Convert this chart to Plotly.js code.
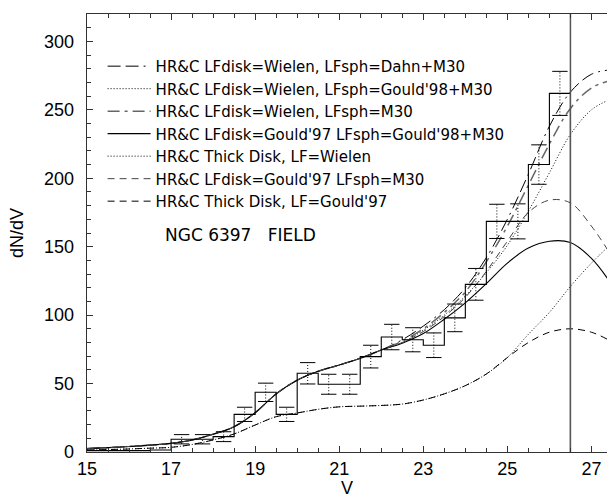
<!DOCTYPE html>
<html><head><meta charset="utf-8">
<script src="https://cdn.plot.ly/plotly-3.0.1.min.js"></script>
<style>html,body{margin:0;padding:0;background:#fff;overflow:hidden}</style>
</head><body><div id="chart" style="width:607px;height:498px"></div>
<script>
// ---- data ----
const magGrid = [15,15.5,16,16.5,17,17.5,18,18.5,19,19.5,20,20.5,21,21.5,22,22.5,23,23.5,24,24.5,25,25.5,26,26.5,27,27.4];

const wielenDahnM30    = [2.5,3.2,4.0,5.0,6.3,8.8,13.0,18.5,28.7,42.5,52.5,59,63.5,68.5,74.5, 82,92,104,120,142,170,203,238,263,276,279];
const wielenGould98M30 = [2.5,3.2,4.0,5.0,6.3,8.8,13.0,18.5,28.7,42.5,52.5,59,63.5,68.5,74.5, 80,89,100,114,131,151,176,204,232,250,257];
const wielenM30        = [2.5,3.2,4.0,5.0,6.3,8.8,13.0,18.5,28.7,42.5,52.5,59,63.5,68.5,74.5, 81,90,102,117,139,165,195,225,251,266,271];
const gould97Gould98M30= [2.5,3.2,4.0,5.0,6.3,8.8,13.0,18.5,28.7,42.5,52.5,59,63.5,68.5,74.5, 79.5,86.5,97,109,123,138,149,154,153,141.5,126];
const thickWielen      = [1.5,1.8,2.2,2.8,3.4,5.5,8.8,13.2,19.7,25.8,28.5,31.2,33,33.5,34, 35,38,42.5,48.5,57,69,86,102,121,138,150];
const gould97M30       = [2.5,3.2,4.0,5.0,6.3,8.8,13.0,18.5,28.7,42.5,52.5,59,63.5,68.5,74.5, 80,88,99,113,132,154,175,184,182,165,147];
const thickGould97     = [1.5,1.8,2.2,2.8,3.4,5.5,8.8,13.2,19.7,25.8,28.5,31.2,33,33.5,34, 35,38,42.5,48.5,57,69,80,87.5,90,87.5,82];

// observed histogram (bin left edges, counts, errors)
const binEdges  = [15,15.5,16,16.5,17,17.5,18,18.5,19,19.5,20,20.5,21,21.5,22,22.5,23,23.5,24,24.5,25,25.5,26,26.5];
const binCounts = [1,1,1,1.5,9.3,9.3,11.2,27.5,43.6,27.5,57.5,49.5,49.5,69.7,84,82,78,98,122.5,168.5,168.5,210,262];
const binErrors = [null,null,null,null,3.4,3.4,3.6,5.2,6.7,5.2,7.8,7.3,7.3,8.3,9.3,8.8,9.0,10.1,11.6,12.5,12.8,14.4,16.1];

const limitMag = 26.5;
const yTop = 320;

const legendNames = [
  "HR&C LFdisk=Wielen, LFsph=Dahn+M30",
  "HR&C LFdisk=Wielen, LFsph=Gould'98+M30",
  "HR&C LFdisk=Wielen, LFsph=M30",
  "HR&C LFdisk=Gould'97 LFsph=Gould'98+M30",
  "HR&C Thick Disk, LF=Wielen",
  "HR&C LFdisk=Gould'97 LFsph=M30",
  "HR&C Thick Disk, LF=Gould'97"
];
const fieldLabel = "NGC 6397\u00a0\u00a0\u00a0FIELD";

// ---- build traces ----
const curveSeries = [wielenDahnM30, wielenGould98M30, wielenM30, gould97Gould98M30, thickWielen, gould97M30, thickGould97];
const curveStyles = [
  {color:'#000', width:1, dash:'13px,5px,13px,5px,2px,5px'},
  {color:'#000', width:1, dash:'1px,2px'},
  {color:'#666', width:1.5, dash:'12px,5px,3px,5px'},
  {color:'#000', width:1.1, dash:'solid'},
  {color:'#000', width:1, dash:'1px,2px'},
  {color:'#444', width:1, dash:'7px,5px'},
  {color:'#000', width:1, dash:'7px,5px'}
];

const traces = [];
curveSeries.forEach((ys,i)=>{
  traces.push({
    x: magGrid, y: ys, type:'scatter', mode:'lines', name: legendNames[i],
    line: Object.assign({shape:'spline', smoothing:1}, curveStyles[i]),
    legendgroup: 'g'+i, hoverinfo:'skip'
  });
});

// histogram step outline
const binW = binEdges[1]-binEdges[0];
const histX = binEdges.slice();
const histY = binCounts.concat([0]);
traces.push({x:histX, y:histY, type:'scatter', mode:'lines', line:{shape:'hv', color:'#000', width:1.1}, showlegend:false, hoverinfo:'skip'});

// error bars: dotted stems + solid caps
const stemX=[], stemY=[], capX=[], capY=[];
binEdges.forEach((e,i)=>{
  if(binErrors[i]==null) return;
  const c = e + binW/2, lo = binCounts[i]-binErrors[i], hi = binCounts[i]+binErrors[i];
  stemX.push(c,c,null); stemY.push(lo,hi,null);
  capX.push(c,c); capY.push(lo,hi);
});
traces.push({x:stemX, y:stemY, type:'scatter', mode:'lines', line:{color:'#000', width:1, dash:'1px,2px'}, showlegend:false, hoverinfo:'skip'});
traces.push({x:capX, y:capY, type:'scatter', mode:'markers', marker:{symbol:'line-ew', size:11, line:{width:1, color:'#000'}}, showlegend:false, hoverinfo:'skip'});

// completeness limit line
traces.push({x:[limitMag,limitMag], y:[0,yTop], type:'scatter', mode:'lines', line:{color:'#555', width:1.5}, showlegend:false, hoverinfo:'skip'});

const layout = {
  width:607, height:498,
  margin:{l:87, r:0, t:14, b:46},
  paper_bgcolor:'#fff', plot_bgcolor:'#fff',
  showlegend:true,
  legend:{x:0.03, y:0.918, xanchor:'left', yanchor:'top', bgcolor:'rgba(0,0,0,0)',
          font:{family:'DejaVu Sans', size:15, color:'#000'}, itemwidth:43, tracegroupgap:0, traceorder:'normal'},
  xaxis:{range:[15,27.37], tick0:15, dtick:2, ticks:'inside', ticklen:6, tickcolor:'#333',
         showline:true, linecolor:'#333', linewidth:1.3, mirror:'allticks',
         minor:{dtick:0.5, ticks:'inside', ticklen:4, tickcolor:'#333'},
         showgrid:false, zeroline:false,
         tickfont:{family:'Liberation Sans, Arial', size:18, color:'#000'},
         title:{text:'V', font:{family:'Liberation Sans, Arial', size:18, color:'#000'}, standoff:6}},
  yaxis:{range:[0,yTop], tick0:0, dtick:50, ticks:'inside', ticklen:6, tickcolor:'#333',
         showline:true, linecolor:'#333', linewidth:1.3, mirror:false,
         minor:{dtick:10, ticks:'inside', ticklen:3.5, tickcolor:'#333'},
         showgrid:false, zeroline:false, ticklabelstandoff:8,
         tickfont:{family:'Liberation Sans, Arial', size:18, color:'#000'},
         title:{text:'dN/dV', font:{family:'Liberation Sans, Arial', size:18, color:'#000'}, standoff:15}},
  annotations:[{text:fieldLabel, xref:'paper', yref:'paper', x:(163-87)/520, y:(452-235)/438,
                xanchor:'left', yanchor:'middle', showarrow:false,
                font:{family:'DejaVu Sans', size:17, color:'#000'}}]
};

Plotly.newPlot('chart', traces, layout, {staticPlot:true, displayModeBar:false});
</script></body></html>
